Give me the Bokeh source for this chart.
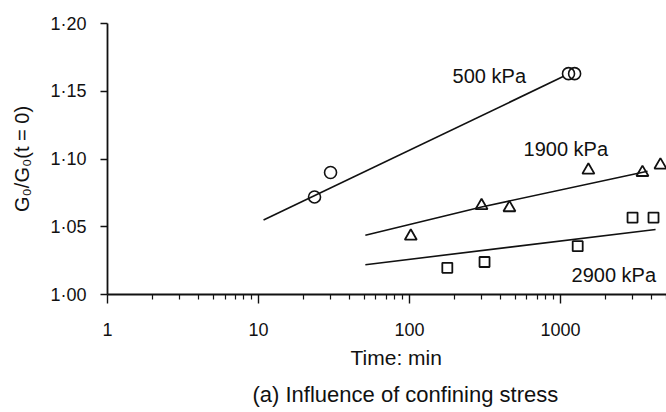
from bokeh.plotting import figure
from bokeh.models import FixedTicker, CustomJSTickFormatter, Title, ColumnDataSource
from bokeh.core.properties import value
from bokeh.embed import file_html
from bokeh.resources import INLINE

# ---- data ----
x_ticks = [1, 10, 100, 1000]
x_minor = [2, 3, 4, 5, 6, 7, 8, 9, 20, 30, 40, 50, 60, 70, 80, 90,
           200, 300, 400, 500, 600, 700, 800, 900, 2000, 3000, 4000, 5000]
y_ticks = [1.00, 1.05, 1.10, 1.15, 1.20]
y_tick_labels = ["1·00", "1·05", "1·10", "1·15", "1·20"]

t_500 = [23.5, 30, 1130, 1240]
g_500 = [1.072, 1.090, 1.163, 1.163]
fit_t_500 = [10.8, 1050]
fit_g_500 = [1.055, 1.161]

t_1900 = [102, 300, 459, 1530, 3490, 4590]
g_1900 = [1.043, 1.0656, 1.064, 1.0918, 1.090, 1.0955]
fit_t_1900 = [51, 300, 3770]
fit_g_1900 = [1.0437, 1.0646, 1.091]

t_2900 = [178, 314, 1300, 3000, 4130]
g_2900 = [1.0197, 1.024, 1.0357, 1.0568, 1.0568]
fit_t_2900 = [51, 4260]
fit_g_2900 = [1.022, 1.048]

label_text = ["500 kPa", "1900 kPa", "2900 kPa"]
label_t = [193, 569, 1183]
label_g = [1.1616, 1.1071, 1.0146]

x_title = "Time: min"
y_title = "G₀/G₀(t = 0)"
caption = "(a) Influence of confining stress"

FONT = "Liberation Sans"
INK = "#111111"

p = figure(width=666, height=412, x_axis_type="log",
           x_range=(1, 5035), y_range=(1.0, 1.2),
           output_backend="svg", toolbar_location=None,
           min_border_left=107, min_border_top=23, min_border_right=0,
           min_border_bottom=115)
p.background_fill_color = "white"
p.border_fill_color = "white"
p.outline_line_color = None
p.grid.visible = False

# lines
for xs, ys in [(fit_t_500, fit_g_500), (fit_t_1900, fit_g_1900), (fit_t_2900, fit_g_2900)]:
    p.line(xs, ys, line_color=INK, line_width=1.6)

# markers
p.scatter(t_500, g_500, marker="circle", size=12, fill_color=None,
          line_color=INK, line_width=1.6)
p.scatter(t_1900, g_1900, marker="triangle", size=12, fill_color=None,
          line_color=INK, line_width=1.8)
p.scatter(t_2900, g_2900, marker="square", size=10, fill_color=None,
          line_color=INK, line_width=1.8)

src = ColumnDataSource(dict(x=label_t, y=label_g, t=label_text))
p.text("x", "y", text="t", source=src, text_font=value(FONT),
       text_font_size="20px", text_color=INK, text_baseline="middle",
       text_align="left")

# axes
xa = p.xaxis[0]
xa.ticker = FixedTicker(ticks=x_ticks, minor_ticks=x_minor)
xa.formatter = CustomJSTickFormatter(code="return String(Math.round(tick));")
xa.major_tick_in = 0
xa.major_tick_out = 9
xa.minor_tick_in = 0
xa.minor_tick_out = 5
xa.major_label_standoff = 19

ya = p.yaxis[0]
ya.ticker = FixedTicker(ticks=y_ticks)
ya.formatter = CustomJSTickFormatter(args=dict(vals=y_ticks, labs=y_tick_labels), code="""
let best = 0;
for (let i = 0; i < vals.length; i++) {
  if (Math.abs(vals[i] - tick) < Math.abs(vals[best] - tick)) best = i;
}
return labs[best];
""")
ya.major_tick_in = 0
ya.major_tick_out = 7
ya.minor_tick_in = 0
ya.minor_tick_out = 0
ya.major_label_standoff = 14
ya.axis_label = y_title
ya.axis_label_standoff = 14
ya.axis_label_text_font = FONT
ya.axis_label_text_font_size = "20px"
ya.axis_label_text_font_style = "normal"
ya.axis_label_text_color = INK

for ax in (xa, ya):
    ax.axis_line_color = INK
    ax.axis_line_width = 1.8
    ax.major_tick_line_color = INK
    ax.major_tick_line_width = 1.4
    ax.minor_tick_line_color = INK
    ax.minor_tick_line_width = 1.2
    ax.major_label_text_font = FONT
    ax.major_label_text_font_size = "18px"
    ax.major_label_text_color = INK

p.add_layout(Title(text=x_title, align="left", offset=243, text_font=FONT,
                   text_font_size="21px", text_font_style="normal",
                   text_color=INK, standoff=10), "below")
p.add_layout(Title(text=caption, align="left", offset=145, text_font=FONT,
                   text_font_size="22px", text_font_style="normal",
                   text_color=INK, standoff=12), "below")

open("out.html", "w").write(file_html(p, INLINE))
